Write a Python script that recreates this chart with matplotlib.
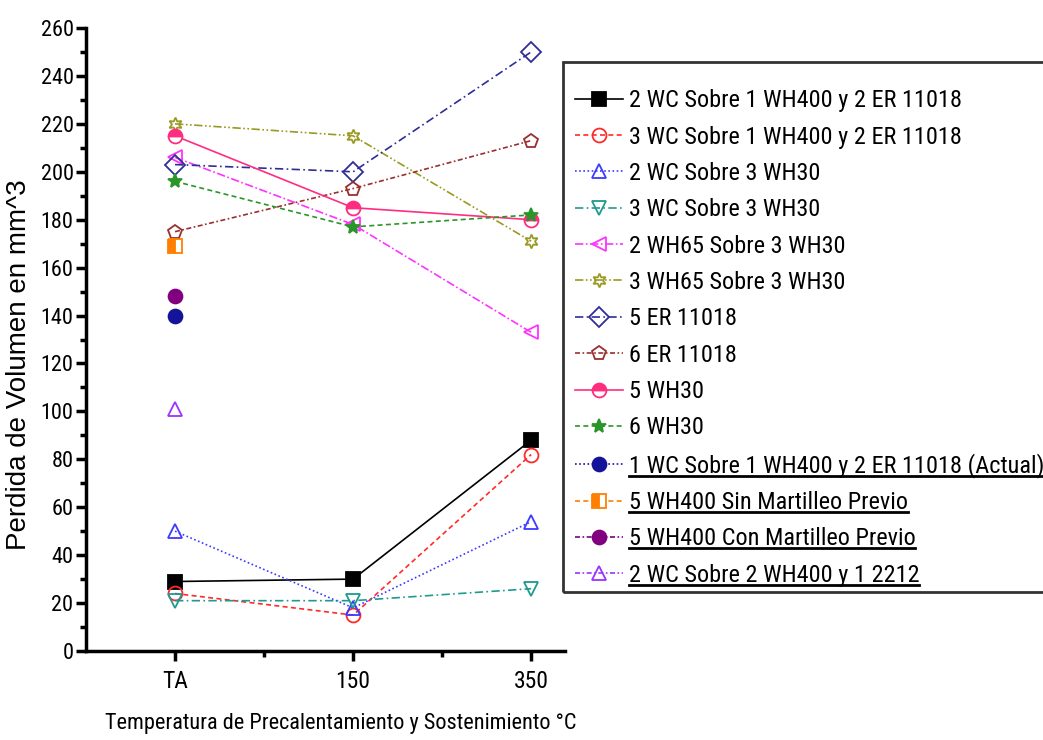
import numpy as np
import matplotlib
matplotlib.use("Agg")
import matplotlib.pyplot as plt
from matplotlib.lines import Line2D
from matplotlib.patches import Rectangle
from matplotlib.ticker import MultipleLocator, FixedLocator

plt.rcParams['font.family'] = ['Roboto Condensed', 'Liberation Sans', 'DejaVu Sans']

# temperatures (x categories)
temps = ["TA", "150", "350"]

labels = [
    "2 WC Sobre 1 WH400 y 2 ER 11018",
    "3 WC Sobre 1 WH400 y 2 ER 11018",
    "2 WC Sobre 3 WH30",
    "3 WC Sobre 3 WH30",
    "2 WH65 Sobre 3 WH30",
    "3 WH65 Sobre 3 WH30",
    "5 ER 11018",
    "6 ER 11018",
    "5 WH30",
    "6 WH30",
    "1 WC Sobre 1 WH400 y 2 ER 11018 (Actual)",
    "5 WH400 Sin Martilleo Previo",
    "5 WH400 Con Martilleo Previo",
    "2 WC Sobre 2 WH400 y 1 2212",
]

wc2_wh400 = [29, 30, 88]
wc3_wh400 = [24, 15, 82]
wc2_wh30 = [50, 18, 54]
wc3_wh30 = [21, 21, 26]
wh65_2 = [206, 178, 133]
wh65_3 = [220, 215, 171]
er5 = [203, 200, 250]
er6 = [175, 193, 213]
wh30_5 = [215, 185, 180]
wh30_6 = [196, 177, 182]
wc1_actual = [140]
wh400_sin = [169]
wh400_con = [148]
wc2_2212 = [101]

series = [wc2_wh400, wc3_wh400, wc2_wh30, wc3_wh30, wh65_2, wh65_3,
          er5, er6, wh30_5, wh30_6, wc1_actual, wh400_sin, wh400_con, wc2_2212]

styles = [
    dict(color='black', ls='-', marker='s', mfc='black'),
    dict(color='#ff2a2a', ls=(0, (3, 2)), marker='o', mfc='none'),
    dict(color='#3b3bff', ls=(0, (1, 1.5)), marker='^', mfc='none'),
    dict(color='#1f9a8f', ls=(0, (5, 2, 1, 2)), marker='v', mfc='none'),
    dict(color='#ff33ff', ls=(0, (5, 1.5, 1, 1.5)), marker='<', mfc='none'),
    dict(color='#9a9a22', ls=(0, (5, 1.5, 1, 1.5, 1, 1.5)), marker=(6, 1, 0), mfc='none'),
    dict(color='#2e2e96', ls=(0, (5, 2, 1, 2)), marker='D', mfc='none'),
    dict(color='#9a2f2f', ls=(0, (3, 1.5, 1, 1.5)), marker='p', mfc='none'),
    dict(color='#ff2d7f', ls='-', marker='o', mfc='#ff2d7f', fillstyle='top', mfcalt='white'),
    dict(color='#2a962a', ls=(0, (3, 2)), marker='*', mfc='#2a962a'),
    dict(color='#14149a', ls=(0, (1, 1.5)), marker='o', mfc='#14149a'),
    dict(color='#ff8000', ls=(0, (3, 2)), marker='s', mfc='#ff8000', fillstyle='left', mfcalt='white'),
    dict(color='#800080', ls=(0, (3, 1.5, 1, 1.5)), marker='o', mfc='#800080'),
    dict(color='#9933ff', ls=(0, (3, 1.5, 1, 1.5)), marker='^', mfc='none'),
]

W, H = 1043, 740
fig = plt.figure(figsize=(W / 100, H / 100), dpi=100)
ax = fig.add_axes([86 / W, 1 - 651 / H, (565 - 86) / W, (651 - 28) / H])

for vals, lab, st in zip(series, labels, styles):
    xs = np.arange(1, len(vals) + 1)
    kw = dict(color=st['color'], linestyle=st['ls'], linewidth=1.2,
              marker=st['marker'], markersize=10, markeredgewidth=1.3,
              markerfacecolor=st['mfc'], markeredgecolor=st['color'], label=lab)
    if 'fillstyle' in st:
        kw['fillstyle'] = st['fillstyle']
        kw['markerfacecoloralt'] = st['mfcalt']
    ax.plot(xs, vals, **kw)

ax.set_xlim(0.5, 3.19)
ax.set_ylim(0, 260)
ax.set_xticks([1, 2, 3])
ax.set_xticklabels(temps)
ax.xaxis.set_minor_locator(FixedLocator([1.5, 2.5]))
ax.yaxis.set_major_locator(MultipleLocator(20))
ax.yaxis.set_minor_locator(MultipleLocator(10))

for s in ['top', 'right']:
    ax.spines[s].set_visible(False)
for s in ['left', 'bottom']:
    ax.spines[s].set_linewidth(2.5)
ax.tick_params(which='major', direction='out', length=7, width=2.5, pad=2)
ax.tick_params(which='minor', direction='out', length=4, width=2.5)
ax.tick_params(axis='y', labelsize=16)
ax.tick_params(axis='x', labelsize=17, pad=7)

ax.set_ylabel("Perdida de Volumen en mm^3", fontsize=20, family='Liberation Sans')
ax.yaxis.set_label_coords(-0.113, 0.46)
ax.set_xlabel("Temperatura de Precalentamiento y Sostenimiento °C", fontsize=16)
ax.xaxis.set_label_coords(0.532, -0.099)

# legend frame (runs past the right edge of the figure)
fig.add_artist(Rectangle((563 / W, 1 - 592 / H), 500 / W, 530 / H, transform=fig.transFigure,
                         facecolor='none', edgecolor='#333333', linewidth=2))
leg = fig.legend(loc='upper left', bbox_to_anchor=(563 / W, 1 - 77 / H),
                 bbox_transform=fig.transFigure, fontsize=17.5, frameon=False,
                 handlelength=1.95, handletextpad=0.25, labelspacing=0.55,
                 borderpad=0.5, borderaxespad=0)

# underline the last four legend entries
fig.canvas.draw()
inv = fig.transFigure.inverted()
for t in leg.get_texts()[10:]:
    bb = t.get_window_extent()
    (x0, y0), (x1, _) = inv.transform([[bb.x0, bb.y0 + 2], [bb.x1, bb.y0 + 2]])
    fig.add_artist(Line2D([x0, x1], [y0, y0], transform=fig.transFigure,
                          color='black', linewidth=2))

fig.savefig("out.png", dpi=100)
